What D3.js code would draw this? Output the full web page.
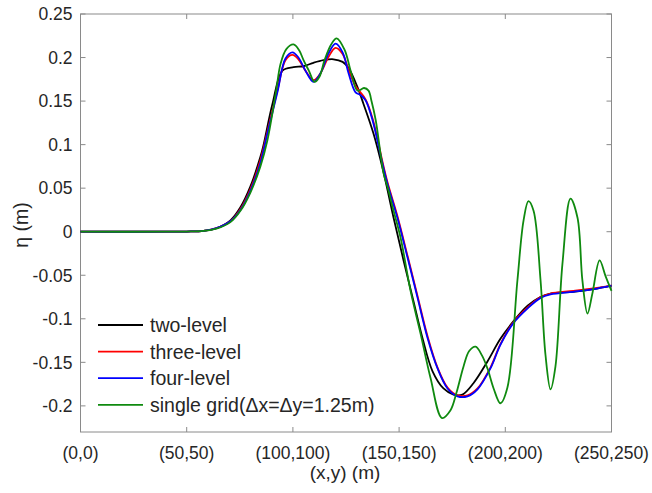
<!DOCTYPE html>
<html>
<head>
<meta charset="utf-8">
<script src="https://cdn.jsdelivr.net/npm/d3@7"></script>
<style>
  body { margin: 0; background: #fff; }
  text { font-family: "Liberation Sans", Arial, sans-serif; fill: #262626; }
</style>
</head>
<body>
<div id="plot"></div>
<script>
// distance along the diagonal (m) and surface elevation (m)
var xTwo = [0, 40, 50, 58, 64, 70.6, 75.3, 80, 84.7, 86.2, 90.4, 95.1, 100.3, 105, 109.7, 114.4, 119.1, 123.4, 126.2, 130.4, 133.2, 137.9, 142.7, 147.4, 152.1, 156.8, 161, 165.7, 170.9, 175.6, 179.8, 185, 191.6, 197.7, 203.8, 210.5, 216.5, 221.2, 232, 241.5, 250];
var etaTwo = [0, 0, 0.0002, 0.001, 0.004, 0.013, 0.028, 0.052, 0.086, 0.100, 0.147, 0.185, 0.189, 0.190, 0.194, 0.197, 0.198, 0.195, 0.188, 0.166, 0.147, 0.113, 0.068, 0.016, -0.033, -0.080, -0.122, -0.160, -0.180, -0.187, -0.187, -0.174, -0.149, -0.123, -0.103, -0.085, -0.075, -0.071, -0.069, -0.066, -0.062];

var xThree = [0, 40, 50, 58, 64, 70.6, 75.3, 80, 84.7, 88, 92.7, 96.5, 99.8, 102.6, 105.9, 109.7, 113, 116.8, 120.1, 123.4, 126.2, 129.5, 131.8, 134.2, 137.5, 142.2, 144.5, 149.2, 154, 158.7, 163.4, 168.1, 172.8, 177.5, 182.2, 186.9, 193, 197.7, 203.8, 210.5, 216.6, 221.3, 232, 241.5, 250];
var etaThree = [0, 0, 0.0002, 0.001, 0.004, 0.012, 0.026, 0.049, 0.082, 0.115, 0.162, 0.197, 0.203, 0.198, 0.185, 0.174, 0.182, 0.201, 0.211, 0.204, 0.186, 0.167, 0.160, 0.152, 0.130, 0.080, 0.057, 0.018, -0.028, -0.074, -0.120, -0.156, -0.179, -0.188, -0.188, -0.180, -0.156, -0.129, -0.104, -0.087, -0.075, -0.071, -0.068, -0.065, -0.062];

var xFour = [0, 40, 50, 58, 64, 70.6, 75.3, 80, 84.7, 88, 92.7, 96.5, 99.8, 102.6, 105.9, 109.7, 113, 116.8, 120.1, 123.4, 126.2, 129.5, 131.8, 134.2, 137.5, 142.2, 144.5, 149.2, 154, 158.7, 163.4, 168.1, 172.8, 177.5, 182.2, 186.9, 193, 197.7, 203.8, 210.5, 216.6, 221.3, 232, 241.5, 250];
var etaFour = [0, 0, 0.0002, 0.001, 0.004, 0.012, 0.025, 0.047, 0.079, 0.113, 0.160, 0.199, 0.206, 0.200, 0.185, 0.172, 0.182, 0.205, 0.216, 0.206, 0.182, 0.160, 0.157, 0.151, 0.128, 0.078, 0.055, 0.016, -0.030, -0.076, -0.122, -0.157, -0.180, -0.189, -0.189, -0.181, -0.157, -0.130, -0.105, -0.088, -0.076, -0.072, -0.069, -0.066, -0.062];

var xSingle = [0, 40, 50, 58, 64, 70.6, 75.3, 80, 84.7, 88, 92, 94.2, 97, 100.3, 103, 105, 107.5, 110.2, 112.5, 114.9, 118, 120.6, 124.3, 127.5, 130.4, 133.5, 135.6, 137, 139, 142.7, 144.6, 147.4, 150.7, 155.4, 160.1, 164.8, 170.2, 174.2, 177, 180.3, 183, 186, 189, 191.6, 194.5, 197.7, 201, 205.7, 208.6, 210.9, 213.3, 216.6, 218.9, 221.3, 223.6, 226.9, 230.7, 234, 236.3, 238.7, 241, 244.4, 247.2, 250];
var etaSingle = [0, 0, 0.0002, 0.001, 0.0035, 0.011, 0.024, 0.045, 0.075, 0.105, 0.160, 0.193, 0.210, 0.215, 0.208, 0.197, 0.185, 0.172, 0.178, 0.197, 0.215, 0.222, 0.209, 0.182, 0.162, 0.165, 0.162, 0.150, 0.128, 0.067, 0.051, 0.024, -0.007, -0.068, -0.117, -0.168, -0.214, -0.205, -0.185, -0.155, -0.137, -0.132, -0.142, -0.157, -0.180, -0.197, -0.179, -0.056, 0.013, 0.035, 0.024, -0.056, -0.141, -0.181, -0.155, -0.037, 0.038, 0.016, -0.056, -0.094, -0.071, -0.033, -0.051, -0.068];

var seriesNames = ["two-level", "three-level", "four-level", "single grid(\u0394x=\u0394y=1.25m)"];
var seriesColors = ["#000000", "#ff0000", "#0000ff", "#0f8a0f"];

var xTicks = [0, 50, 100, 150, 200, 250];
var xTickLabels = ["(0,0)", "(50,50)", "(100,100)", "(150,150)", "(200,200)", "(250,250)"];
var yTicks = [0.25, 0.2, 0.15, 0.1, 0.05, 0, -0.05, -0.1, -0.15, -0.2];

var svg_w = 652, svg_h = 493;
var margin = {left: 80.5, top: 14, right: 40.5, bottom: 61};
var graph_w = svg_w - margin.left - margin.right;
var graph_h = svg_h - margin.top - margin.bottom;

var svg = d3.select("#plot")
      .append("svg")
      .attr("width", svg_w)
      .attr("height", svg_h);

var g = svg.append("g")
      .attr("transform", "translate(" + margin.left + "," + margin.top + ")");

var xScale = d3.scaleLinear()
        .domain([0, 250])
        .range([0, graph_w]);

var yScale = d3.scaleLinear()
        .domain([-0.23, 0.25])
        .range([graph_h, 0]);

var fmt = function(d) { return d === 0 ? "0" : String(+d.toFixed(2)); };

// box round the plot area
g.append("rect")
  .attr("x", 0)
  .attr("y", 0)
  .attr("width", graph_w)
  .attr("height", graph_h)
  .style("fill", "none")
  .style("stroke", "#8a8a8a")
  .style("stroke-width", 1);

// inward ticks on all four sides
var tickLen = 5;
g.selectAll(".xtick-b").data(xTicks).enter().append("line")
  .attr("x1", d => xScale(d)).attr("x2", d => xScale(d))
  .attr("y1", graph_h).attr("y2", graph_h - tickLen)
  .style("stroke", "#8a8a8a");
g.selectAll(".xtick-t").data(xTicks).enter().append("line")
  .attr("x1", d => xScale(d)).attr("x2", d => xScale(d))
  .attr("y1", 0).attr("y2", tickLen)
  .style("stroke", "#8a8a8a");
g.selectAll(".ytick-l").data(yTicks).enter().append("line")
  .attr("x1", 0).attr("x2", tickLen)
  .attr("y1", d => yScale(d)).attr("y2", d => yScale(d))
  .style("stroke", "#8a8a8a");
g.selectAll(".ytick-r").data(yTicks).enter().append("line")
  .attr("x1", graph_w).attr("x2", graph_w - tickLen)
  .attr("y1", d => yScale(d)).attr("y2", d => yScale(d))
  .style("stroke", "#8a8a8a");

// tick labels
g.selectAll(".xlab").data(xTicks).enter().append("text")
  .attr("x", d => xScale(d))
  .attr("y", graph_h + 27)
  .attr("text-anchor", "middle")
  .style("font-size", "17.5px")
  .text((d, i) => xTickLabels[i]);

g.selectAll(".ylab").data(yTicks).enter().append("text")
  .attr("x", -8)
  .attr("y", d => yScale(d))
  .attr("dy", "0.36em")
  .attr("text-anchor", "end")
  .style("font-size", "17.5px")
  .text(fmt);

// axis titles
svg.append("text")
  .attr("text-anchor", "middle")
  .attr("x", margin.left + graph_w / 2 - 1)
  .attr("y", 479)
  .style("font-size", "19px")
  .text("(x,y) (m)");

svg.append("text")
  .attr("text-anchor", "middle")
  .attr("transform", "translate(28," + (margin.top + graph_h / 2 + 2) + ") rotate(-90)")
  .style("font-size", "19.5px")
  .text("\u03b7 (m)");

// the four curves
var allSeries = [
  {x: xTwo, y: etaTwo},
  {x: xThree, y: etaThree},
  {x: xFour, y: etaFour},
  {x: xSingle, y: etaSingle}
];

var line = d3.line()
  .x(d => xScale(d[0]))
  .y(d => yScale(d[1]))
  .curve(d3.curveCatmullRom.alpha(0.5));

g.selectAll(".curve")
  .data(allSeries)
  .enter()
  .append("path")
  .attr("class", "curve")
  .attr("d", d => line(d.x.map((v, i) => [v, d.y[i]])))
  .style("fill", "none")
  .style("stroke", (d, i) => seriesColors[i])
  .style("stroke-width", 1.8);

// legend, no box
var legend = svg.append("g")
  .attr("transform", "translate(98,325)");

legend.selectAll("line").data(seriesNames).enter().append("line")
  .attr("x1", 0).attr("x2", 45)
  .attr("y1", (d, i) => i * 26.6).attr("y2", (d, i) => i * 26.6)
  .style("stroke", (d, i) => seriesColors[i])
  .style("stroke-width", 1.8);

legend.selectAll("text").data(seriesNames).enter().append("text")
  .attr("x", 52)
  .attr("y", (d, i) => i * 26.6)
  .attr("dy", "0.36em")
  .style("font-size", "19.5px")
  .text(d => d);
</script>
</body>
</html>
